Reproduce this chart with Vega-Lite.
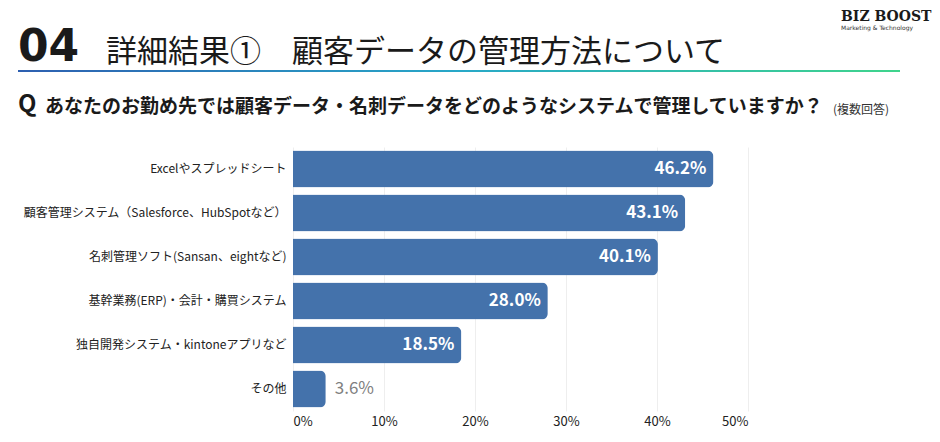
{
  "$schema": "https://vega.github.io/schema/vega-lite/v6.json",
  "padding": {"left": 18, "top": 10, "right": 4, "bottom": 4},
  "background": "white",
  "config": {
    "font": "Noto Sans CJK JP",
    "view": {"stroke": null},
    "title": {"anchor": "start", "frame": "bounds", "color": "#1a1a1a", "offset": 0}
  },
  "vconcat": [
    {
      "vconcat": [
        {
          "hconcat": [
            {
              "title": {"text": "04", "font": "DejaVu Sans", "fontSize": 44, "fontWeight": "bold", "color": "#1a1a1a", "dy": 14},
              "width": 1, "height": 1,
              "data": {"values": []},
              "mark": "point"
            },
            {
              "title": {"text": "詳細結果①　顧客データの管理方法について", "fontSize": 31, "fontWeight": "normal", "dy": 13},
              "width": 709, "height": 1,
              "data": {"values": []},
              "mark": "point"
            },
            {
              "title": {"text": "BIZ BOOST", "subtitle": "Marketing & Technology", "font": "DejaVu Serif", "fontSize": 14, "fontWeight": "bold", "subtitleFontSize": 6, "subtitleFont": "DejaVu Sans", "subtitleColor": "#333", "subtitlePadding": 1, "dy": -25},
              "width": 1, "height": 1,
              "data": {"values": []},
              "mark": "point"
            }
          ],
          "spacing": 26
        },
        {
          "width": 882, "height": 2,
          "data": {"values": [{"part": "underline"}]},
          "mark": {"type": "rect", "fill": {"gradient": "linear", "x1": 0, "y1": 0, "x2": 1, "y2": 0, "stops": [{"offset": 0, "color": "#2d5fb0"}, {"offset": 0.5, "color": "#28a8c8"}, {"offset": 1, "color": "#3fd48c"}]}},
          "encoding": {
            "x": {"datum": 0, "type": "quantitative", "scale": {"domain": [0, 1]}, "axis": null},
            "x2": {"datum": 1},
            "y": {"datum": 0, "type": "quantitative", "scale": {"domain": [0, 1]}, "axis": null},
            "y2": {"datum": 1}
          }
        }
      ],
      "spacing": 0
    },
    {
      "hconcat": [
        {
          "title": {"text": "Q", "fontSize": 24, "fontWeight": "bold"},
          "width": 1, "height": 5, "data": {"values": []}, "mark": "point"
        },
        {
          "title": {"text": "あなたのお勤め先では顧客データ・名刺データをどのようなシステムで管理していますか？", "fontSize": 19, "fontWeight": "bold"},
          "width": 1, "height": 5, "data": {"values": []}, "mark": "point"
        },
        {
          "title": {"text": "(複数回答)", "fontSize": 12, "fontWeight": "normal", "color": "#333"},
          "width": 1, "height": 5, "data": {"values": []}, "mark": "point"
        }
      ],
      "spacing": 8
    },
    {
      "bounds": "flush",
      "spacing": 0,
      "hconcat": [
        {
          "width": 275, "height": 264, "data": {"values": []}, "mark": "point"
        },
        {
          "width": 455,
          "height": 264,
          "data": {
            "values": [
              {"category": "Excelやスプレッドシート", "value": 0.462},
              {"category": "顧客管理システム（Salesforce、HubSpotなど）", "value": 0.431},
              {"category": "名刺管理ソフト(Sansan、eightなど)", "value": 0.401},
              {"category": "基幹業務(ERP)・会計・購買システム", "value": 0.28},
              {"category": "独自開発システム・kintoneアプリなど", "value": 0.185},
              {"category": "その他", "value": 0.036}
            ]
          },
          "encoding": {
            "y": {
              "field": "category", "type": "nominal", "sort": null, "title": null,
              "scale": {"paddingInner": 0.16, "paddingOuter": 0.08},
              "axis": {"domain": false, "ticks": false, "labelFontSize": 12, "labelColor": "#222", "labelPadding": 7, "labelLimit": 400}
            },
            "x": {
              "field": "value", "type": "quantitative", "title": null,
              "scale": {"domain": [0, 0.5], "nice": false},
              "axis": {"values": [0, 0.1, 0.2, 0.3, 0.4, 0.5], "format": ".0%", "domain": false, "ticks": false, "grid": true, "gridColor": "#eeeeee", "labelFontSize": 13, "labelColor": "#222", "labelPadding": 4}
            }
          },
          "layer": [
            {"mark": {"type": "bar", "color": "#4472ab", "cornerRadiusEnd": 6}},
            {
              "transform": [{"filter": "datum.value >= 0.1"}],
              "mark": {"type": "text", "align": "right", "dx": -7, "color": "white", "fontSize": 17, "fontWeight": "bold"},
              "encoding": {"text": {"field": "value", "type": "quantitative", "format": ".1%"}}
            },
            {
              "transform": [{"filter": "datum.value < 0.1"}],
              "mark": {"type": "text", "align": "left", "dx": 9, "color": "#808080", "fontSize": 17},
              "encoding": {"text": {"field": "value", "type": "quantitative", "format": ".1%"}}
            },
            {
              "data": {"values": [{"note": "n=427"}]},
              "mark": {"type": "text", "align": "center", "dy": -10, "color": "#333", "fontSize": 13},
              "encoding": {
                "x": {"datum": 0.5},
                "y": {"datum": "Excelやスプレッドシート"},
                "text": {"field": "note"}
              }
            }
          ]
        }
      ]
    }
  ],
  "spacing": 21
}
